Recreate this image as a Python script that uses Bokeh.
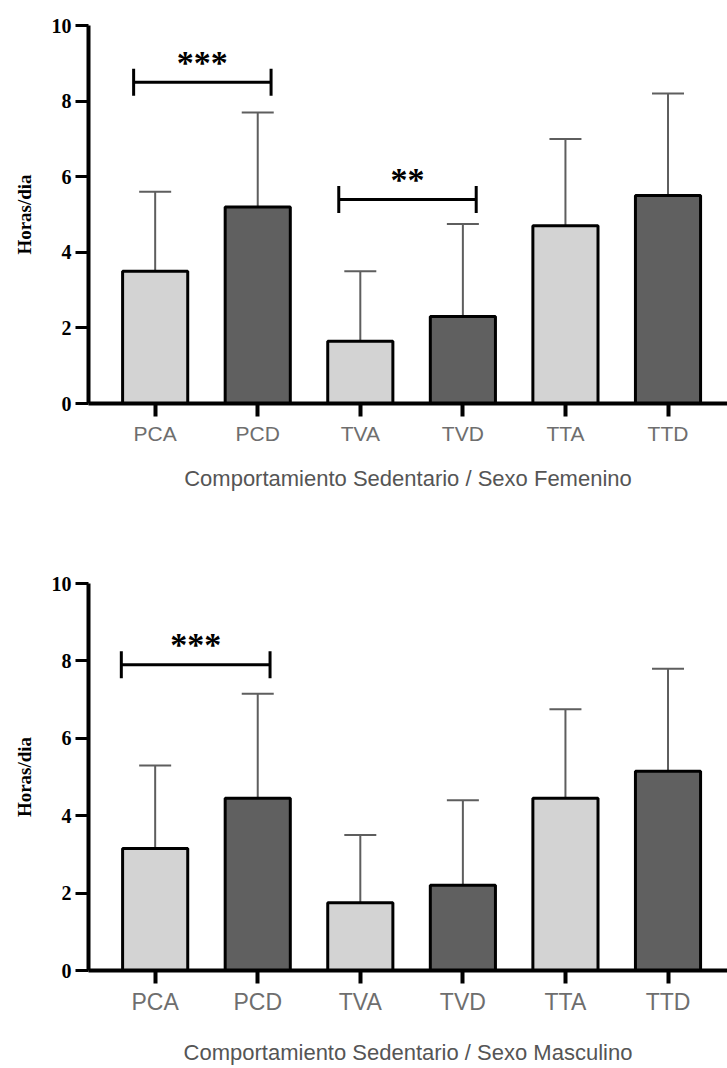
import math
from bokeh.plotting import figure
from bokeh.layouts import column
from bokeh.models import (ColumnDataSource, Range1d, FixedTicker, Whisker, TeeHead)
from bokeh.core.properties import value
from bokeh.embed import file_html
from bokeh.resources import INLINE

# ---------------- data ----------------
categories = ["PCA", "PCD", "TVA", "TVD", "TTA", "TTD"]
shade = ["light", "dark", "light", "dark", "light", "dark"]

fem_mean = [3.5, 5.2, 1.65, 2.3, 4.7, 5.5]
fem_upper = [5.6, 7.7, 3.5, 4.75, 7.0, 8.2]
fem_sig_pairs = [("PCA", "PCD"), ("TVA", "TVD")]
fem_sig_y = [8.5, 5.4]
fem_sig_labels = ["***", "**"]
fem_title = "Comportamiento Sedentario / Sexo Femenino"

mas_mean = [3.15, 4.45, 1.75, 2.2, 4.45, 5.15]
mas_upper = [5.3, 7.15, 3.5, 4.4, 6.75, 7.8]
mas_sig_pairs = [("PCA", "PCD")]
mas_sig_y = [7.9]
mas_sig_labels = ["***"]
mas_title = "Comportamiento Sedentario / Sexo Masculino"

y_ticks = [0, 2, 4, 6, 8, 10]
y_label = "Horas/dia"

# ---------------- style ----------------
FILL = {"light": "#d3d3d3", "dark": "#606060"}
ERR_COLOR = "#5e5e5e"
TICK_COLOR = "#6e6e6e"
SANS = "'Liberation Sans', Arial, sans-serif"
SERIF = "'Liberation Serif', 'Times New Roman', serif"


def make_panel(mean, upper, pairs, sig_y, sig_labels, title, height, top_border,
               bottom_border, tick_standoff, title_standoff, left_off, right_off,
               tick_size, title_size):
    idx = list(range(len(categories)))
    src = ColumnDataSource(dict(
        x=idx, top=mean, upper=upper, cat=categories,
        fill=[FILL[s] for s in shade]))

    p = figure(width=727, height=height, output_backend="svg", toolbar_location=None,
               x_range=Range1d(-0.65, 5.58), y_range=Range1d(0, 10),
               min_border_left=88, min_border_right=0, min_border_top=top_border,
               min_border_bottom=bottom_border)
    p.outline_line_color = None
    p.grid.visible = False
    p.background_fill_color = "white"

    # error bars (upper only)
    w = Whisker(base="x", lower="top", upper="upper", source=src,
                line_color=ERR_COLOR, line_width=2,
                upper_head=TeeHead(size=32, line_color=ERR_COLOR, line_width=2),
                lower_head=None)
    p.add_layout(w)

    p.vbar(x="x", top="top", width=0.635, source=src, fill_color="fill",
           line_color="black", line_width=3)

    # significance brackets
    x1 = [categories.index(a) + left_off for a, b in pairs]
    x2 = [categories.index(b) + right_off for a, b in pairs]
    xm = [(a + b) / 2 for a, b in zip(x1, x2)]
    p.segment(x0=x1, y0=sig_y, x1=x2, y1=sig_y, line_color="black", line_width=3)
    p.scatter(x=x1 + x2, y=sig_y + sig_y, marker="dash", angle=math.pi / 2, size=27,
              line_color="black", line_width=3)
    p.text(x=xm, y=sig_y, text=sig_labels, text_font=value("Liberation Serif"),
           text_font_style="bold", text_font_size="34px", text_align="center",
           text_baseline="alphabetic", text_color="black", y_offset=-20)

    # x axis
    xa = p.xaxis[0]
    xa.ticker = FixedTicker(ticks=idx)
    xa.major_label_overrides = {i: c for i, c in enumerate(categories)}
    xa.axis_line_width = 4
    xa.axis_line_color = "black"
    xa.major_tick_line_width = 4
    xa.major_tick_in = 0
    xa.major_tick_out = 13
    xa.minor_tick_line_color = None
    xa.major_label_text_font = SANS
    xa.major_label_text_font_size = tick_size
    xa.major_label_text_color = TICK_COLOR
    xa.major_label_standoff = tick_standoff
    xa.axis_label = title
    xa.axis_label_text_font = SANS
    xa.axis_label_text_font_style = "normal"
    xa.axis_label_text_font_size = title_size
    xa.axis_label_text_color = "#555555"
    xa.axis_label_standoff = title_standoff

    # y axis
    ya = p.yaxis[0]
    ya.ticker = FixedTicker(ticks=y_ticks)
    ya.axis_line_width = 4
    ya.axis_line_color = "black"
    ya.major_tick_line_width = 3
    ya.major_tick_in = 0
    ya.major_tick_out = 13
    ya.minor_tick_line_color = None
    ya.major_label_text_font = SERIF
    ya.major_label_text_font_style = "bold"
    ya.major_label_text_font_size = "20px"
    ya.major_label_text_color = "black"
    ya.major_label_standoff = 4
    ya.axis_label = y_label
    ya.axis_label_text_font = SERIF
    ya.axis_label_text_font_style = "bold"
    ya.axis_label_text_font_size = "19px"
    ya.axis_label_text_color = "black"
    ya.axis_label_standoff = 14
    return p


p1 = make_panel(fem_mean, fem_upper, fem_sig_pairs, fem_sig_y, fem_sig_labels, fem_title,
                height=553, top_border=25, bottom_border=150, tick_standoff=5,
                title_standoff=18, left_off=-0.21, right_off=0.13,
                tick_size="21px", title_size="22px")
p2 = make_panel(mas_mean, mas_upper, mas_sig_pairs, mas_sig_y, mas_sig_labels, mas_title,
                height=515, top_border=30, bottom_border=98, tick_standoff=5,
                title_standoff=22, left_off=-0.33, right_off=0.12,
                tick_size="23px", title_size="22px")

layout = column(p1, p2, spacing=0)
open("out.html", "w").write(file_html(layout, INLINE))
